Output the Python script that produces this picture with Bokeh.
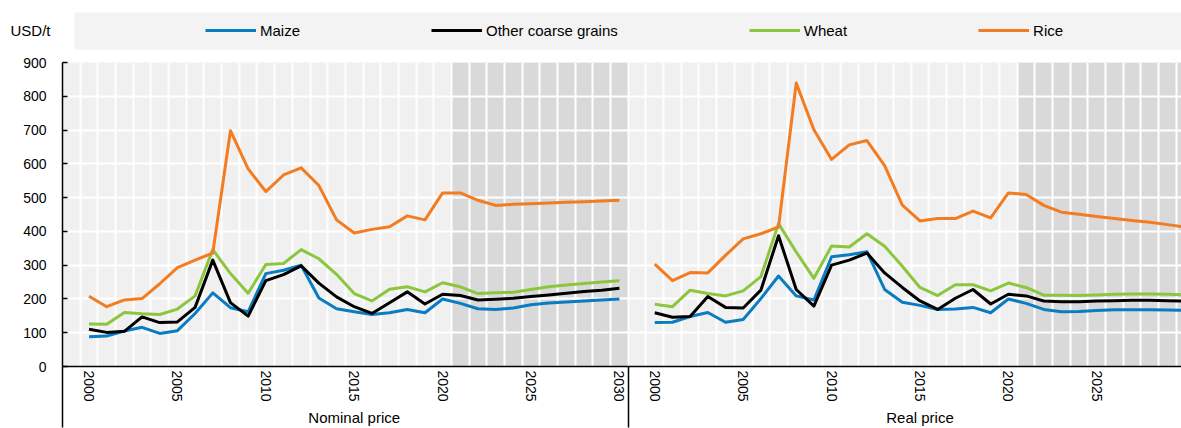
from bokeh.plotting import figure
from bokeh.models import FixedTicker, LinearAxis, Legend, LegendItem, Range1d
from bokeh.layouts import column
from bokeh.embed import file_html
from bokeh.resources import INLINE

# ---- data (USD/t) -------------------------------------------------------
years = list(range(2000, 2031))
panels = ["Nominal price", "Real price"]
series = ["Maize", "Other coarse grains", "Wheat", "Rice"]
projection_start = 2021
y_ticks = [0, 100, 200, 300, 400, 500, 600, 700, 800, 900]
label_years = [2000, 2005, 2010, 2015, 2020, 2025, 2030]
unit = "USD/t"

maize_nominal = [88, 90, 105, 116, 98, 106, 157, 218, 174, 162, 275, 285, 300, 203, 171,
                 162, 154, 159, 169, 159, 200, 187, 171, 169, 173, 183, 188, 191, 194, 197, 200]
ocg_nominal = [110, 101, 104, 147, 130, 132, 175, 315, 189, 149, 254, 272, 298, 247, 206,
               177, 157, 189, 221, 185, 214, 210, 197, 199, 202, 207, 212, 217, 222, 226, 232]
wheat_nominal = [126, 125, 160, 156, 154, 170, 209, 346, 275, 217, 302, 305, 346, 319, 273,
                 216, 194, 229, 236, 221, 248, 236, 216, 218, 220, 228, 236, 241, 246, 250, 254]
rice_nominal = [208, 177, 197, 201, 245, 293, 315, 336, 698, 585, 518, 567, 588, 536, 434,
                395, 406, 414, 446, 434, 514, 514, 492, 477, 480, 482, 484, 486, 488, 490, 492]

maize_real = [130, 131, 148, 160, 131, 139, 201, 268, 209, 197, 325, 331, 340, 228, 190,
              181, 169, 170, 175, 159, 200, 187, 169, 162, 163, 166, 168, 168, 168, 167, 166]
ocg_real = [159, 146, 148, 207, 175, 173, 226, 387, 228, 179, 300, 315, 336, 277, 234,
            194, 169, 202, 228, 185, 214, 209, 194, 192, 192, 194, 195, 196, 196, 195, 194]
wheat_real = [184, 177, 226, 216, 209, 224, 266, 423, 339, 261, 357, 354, 393, 356, 297,
              234, 210, 242, 242, 224, 247, 234, 211, 211, 210, 212, 214, 215, 215, 214, 212]
rice_real = [303, 254, 278, 277, 329, 378, 393, 413, 839, 701, 613, 656, 669, 595, 478,
             431, 438, 438, 460, 440, 514, 509, 477, 457, 451, 444, 438, 432, 427, 420, 413]

values = {
    "Nominal price": [maize_nominal, ocg_nominal, wheat_nominal, rice_nominal],
    "Real price": [maize_real, ocg_real, wheat_real, rice_real],
}
colors = ["#0a7cc1", "#000000", "#8cc63f", "#f47c20"]

FONT = "Liberation Sans"
WIDTH = 1181

# ---- category layout: each panel has one empty slot before its years -----
slots_per_panel = len(years) + 1


def slot(year, panel_idx):
    return (year - years[0] + 1) + panel_idx * slots_per_panel


x_start = -0.5
px_per_slot = 17.68
frame_left = 62
frame_width = WIDTH - frame_left
x_end = x_start + frame_width / px_per_slot
sep_len = 61  # separators run from the axis line to the bottom edge

# ---- main chart ------------------------------------------------------------
p = figure(width=WIDTH, height=378, x_range=Range1d(x_start, x_end), y_range=Range1d(0, 900),
           output_backend="svg", toolbar_location=None,
           min_border_left=frame_left, min_border_right=0, min_border_top=12,
           min_border_bottom=sep_len, background_fill_color="#f0f0f0", outline_line_color=None)

# projection period shading
shade_left = [slot(projection_start, i) - 0.5 for i in range(len(panels))]
shade_right = [slot(years[-1], i) + 0.5 for i in range(len(panels))]
p.quad(left=shade_left, right=shade_right, bottom=y_ticks[0], top=y_ticks[-1],
       fill_color="#d9d9d9", line_color=None, level="image")

# grid: white lines between year slots and at every 100 USD/t
n_slots = len(panels) * slots_per_panel
p.xgrid.ticker = FixedTicker(ticks=[k + 0.5 for k in range(n_slots)])
p.ygrid.ticker = FixedTicker(ticks=y_ticks)
for g in (p.xgrid[0], p.ygrid[0]):
    g.grid_line_color = "white"
    g.grid_line_width = 2

# price lines
for pi, panel in enumerate(panels):
    xs = [slot(y, pi) for y in years]
    for vals, c in zip(values[panel], colors):
        p.line(xs, vals, line_color=c, line_width=3, line_join="round")

# year axis with panel separators (long minor ticks)
year_pos = {}
for pi in range(len(panels)):
    for y in label_years:
        year_pos[slot(y, pi)] = str(y)
separators = [x_start + k * slots_per_panel for k in range(len(panels) + 1)]

xa = p.xaxis[0]
xa.ticker = FixedTicker(ticks=list(year_pos.keys()), minor_ticks=separators)
xa.major_label_overrides = year_pos
xa.major_label_orientation = "vertical"
xa.major_label_text_font = FONT
xa.major_label_text_font_size = "14px"
xa.major_label_text_color = "#000000"
xa.major_label_standoff = 4 - sep_len
xa.major_tick_line_color = None
xa.major_tick_in = 0
xa.major_tick_out = 0
xa.minor_tick_in = 0
xa.minor_tick_out = sep_len
xa.minor_tick_line_color = "#000000"
xa.minor_tick_line_width = 1.5
xa.axis_line_color = "#000000"
xa.axis_line_width = 1.5

# panel names
centers = [slot(years[0], i) - 1 + slots_per_panel / 2 for i in range(len(panels))]
ga = LinearAxis(ticker=FixedTicker(ticks=centers),
                major_label_overrides=dict(zip(centers, panels)),
                axis_line_color=None, major_tick_line_color=None, minor_tick_line_color=None,
                major_tick_in=0, major_tick_out=0,
                major_label_text_font=FONT, major_label_text_font_size="15px",
                major_label_text_color="#000000", major_label_standoff=4)
p.add_layout(ga, "below")

ya = p.yaxis[0]
ya.ticker = FixedTicker(ticks=y_ticks)
ya.major_label_text_font = FONT
ya.major_label_text_font_size = "14px"
ya.major_label_text_color = "#000000"
ya.major_label_standoff = 16
ya.major_tick_in = 5
ya.major_tick_out = 0
ya.major_tick_line_color = "#000000"
ya.major_tick_line_width = 1.5
ya.minor_tick_line_color = None
ya.axis_line_color = "#000000"
ya.axis_line_width = 1.5

# ---- header band: unit and legend (frame shares the chart's left edge) ------
top = figure(width=WIDTH, height=50, x_range=Range1d(frame_left, WIDTH), y_range=Range1d(50, 0),
             x_axis_location=None, y_axis_location="left",
             min_border_left=frame_left, min_border_right=0, min_border_top=0,
             min_border_bottom=0, outline_line_color=None, output_backend="svg",
             toolbar_location=None)
top.grid.visible = False
top.quad(left=74, right=WIDTH, top=12, bottom=49, fill_color="#f3f3f3", line_color=None)

ua = top.yaxis[0]
ua.ticker = FixedTicker(ticks=[30])
ua.major_label_overrides = {30: unit}
ua.axis_line_color = None
ua.major_tick_line_color = None
ua.minor_tick_line_color = None
ua.major_tick_in = 0
ua.major_tick_out = 0
ua.major_label_standoff = 12
ua.major_label_text_font = FONT
ua.major_label_text_font_size = "15px"
ua.major_label_text_color = "#000000"

nan = float("nan")
items = []
for name, c in zip(series, colors):
    r = top.line(x=[nan], y=[nan], line_color=c, line_width=3)
    items.append(LegendItem(label=name, renderers=[r]))
legend = Legend(items=items, orientation="horizontal", location=(205 - frame_left, 10),
                spacing=131, glyph_width=51, glyph_height=20, label_height=20,
                label_standoff=4, padding=0, margin=0, background_fill_alpha=0,
                border_line_alpha=0, label_text_font=FONT, label_text_font_size="15px",
                label_text_color="#000000")
top.add_layout(legend)

layout = column(top, p, spacing=0)
open("out.html", "w").write(file_html(layout, INLINE))
